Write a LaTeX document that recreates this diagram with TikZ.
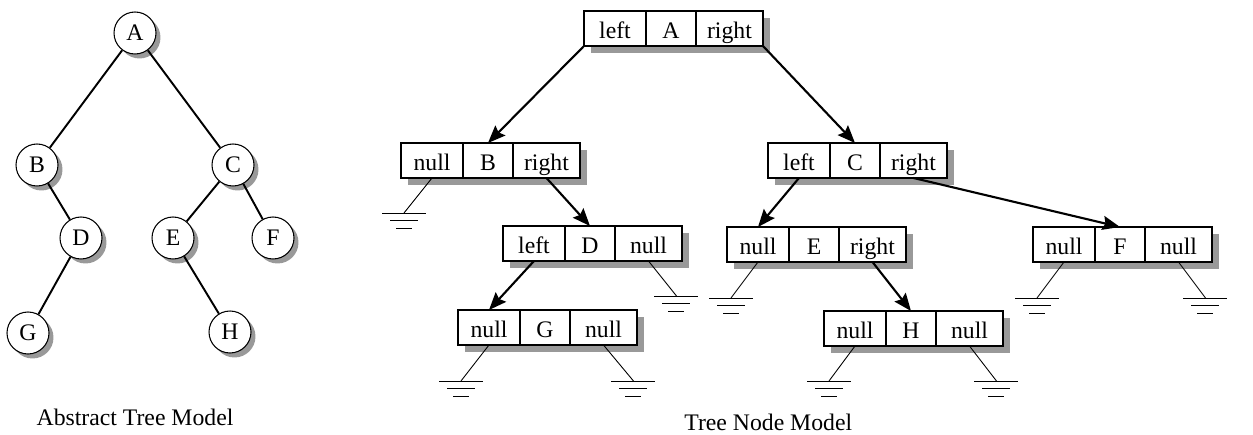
\documentclass[tikz,border=0pt]{standalone}
\usepackage{fontspec}
\setmainfont{Liberation Serif}
\usetikzlibrary{arrows.meta,shadows}

\tikzset{
	gnd/.pic={\draw[line width=0.5pt] (-22,0) -- (22,0) (-14,7.5) -- (14,7.5) (-8,15) -- (8,15);}
}

% one tree node: name, x, y, three cells
\newcommand{\record}[6]{%
	\fill[black!40] ({#2+7},{#3+7}) rectangle ++(179,35);
	\node (#1l) at (#2,#3)			[cell, minimum width=1.24cm]	{#4};
	\node (#1)  at (#1l.north east)	[cell, minimum width=1cm]		{#5};
	\node (#1r) at (#1.north east)	[cell, minimum width=1.34cm]	{#6};
}

\begin{document}
\begin{tikzpicture}[x=0.02cm,y=-0.02cm,font=\fontsize{13.5}{16}\selectfont,line width=0.6pt,
	vertex/.style={circle, draw, fill=white, minimum size=0.84cm, inner sep=0pt,
		drop shadow={shadow xshift=0.09cm, shadow yshift=-0.09cm, fill=black!40, opacity=1}},
	cell/.style={draw, fill=white, anchor=north west, outer sep=0pt, inner sep=0pt,
		minimum height=0.7cm, text height=12pt, text depth=0.5pt},
	edge/.style={line width=1.1pt},
	ptr/.style={line width=1.2pt, -{Stealth[length=10pt,width=8pt,inset=1.5pt]}},
	nul/.style={line width=0.5pt}]
	\useasboundingbox (0,0) rectangle (1253,435);

	% abstract tree
	\node (A) at (135, 33)	[vertex]	{A};
	\node (B) at ( 37,165)	[vertex]	{B};
	\node (C) at (233,165)	[vertex]	{C};
	\node (D) at ( 81,238)	[vertex]	{D};
	\node (E) at (173,238)	[vertex]	{E};
	\node (F) at (273,238)	[vertex]	{F};
	\node (G) at ( 28,333)	[vertex]	{G};
	\node (H) at (230,332)	[vertex]	{H};
	\draw[edge] (A) -- (B);
	\draw[edge] (A) -- (C);
	\draw[edge] (B) -- (D);
	\draw[edge] (C) -- (E);
	\draw[edge] (C) -- (F);
	\draw[edge] (D) -- (G);
	\draw[edge] (E) -- (H);
	\node (capA) at (135,425) [anchor=base] {Abstract Tree Model};

	% tree node model
	\record{rA}{584}{11}{left}{A}{right}
	\record{rB}{401}{143}{null}{B}{right}
	\record{rC}{768}{143}{left}{C}{right}
	\record{rD}{503}{226}{left}{D}{null}
	\record{rE}{727}{227}{null}{E}{right}
	\record{rF}{1033}{227}{null}{F}{null}
	\record{rG}{458}{310}{null}{G}{null}
	\record{rH}{824}{311}{null}{H}{null}

	\draw[ptr] (rAl.south west) -- (rB.north);
	\draw[ptr] (rAr.south east) -- (rC.north);
	\draw[ptr] (rBr.south) -- (rD.north);
	\draw[ptr] (rDl.south) -- (rGl.north);
	\draw[ptr] (rCl.south) -- (rEl.north);
	\draw[ptr] (rCr.south) -- (rF.north);
	\draw[ptr] (rEr.south) -- (rH.north);

	\draw[nul] (rBl.south) -- ++(-28,35) coordinate (gBl) pic {gnd};
	\draw[nul] (rDr.south) -- ++(28,35) coordinate (gDr) pic {gnd};
	\draw[nul] (rGl.south) -- ++(-28,36) coordinate (gGl) pic {gnd};
	\draw[nul] (rGr.south) -- ++(30,36) coordinate (gGr) pic {gnd};
	\draw[nul] (rEl.south) -- ++(-27,36) coordinate (gEl) pic {gnd};
	\draw[nul] (rHl.south) -- ++(-26,35) coordinate (gHl) pic {gnd};
	\draw[nul] (rHr.south) -- ++(27,35) coordinate (gHr) pic {gnd};
	\draw[nul] (rFl.south) -- ++(-27,36) coordinate (gFl) pic {gnd};
	\draw[nul] (rFr.south) -- ++(27,36) coordinate (gFr) pic {gnd};
	\node (capN) at (678,430) [anchor=base west] {Tree Node Model};
\end{tikzpicture}
\end{document}
